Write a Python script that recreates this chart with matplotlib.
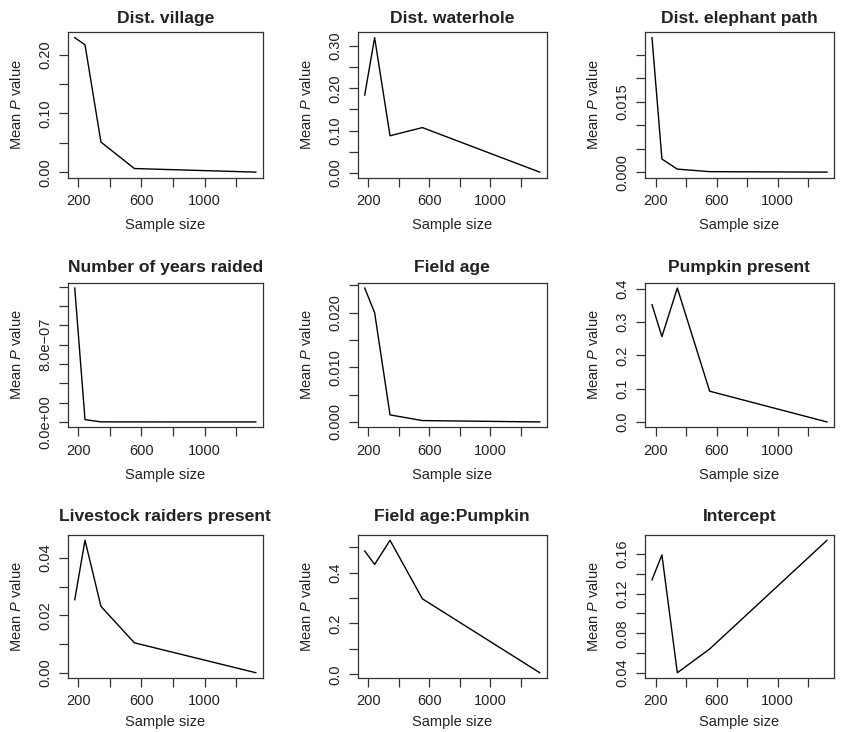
import matplotlib
matplotlib.use("Agg")
import matplotlib.pyplot as plt
import numpy as np

plt.rcParams['font.family'] = ['Liberation Sans', 'DejaVu Sans']
plt.rcParams['mathtext.fontset'] = 'custom'
plt.rcParams['mathtext.rm'] = 'Liberation Sans'
plt.rcParams['mathtext.it'] = 'Liberation Sans:italic'

# ---- data ----
sample_size = [177, 242, 343, 555, 1324]

titles = ["Dist. village", "Dist. waterhole", "Dist. elephant path",
          "Number of years raided", "Field age", "Pumpkin present",
          "Livestock raiders present", "Field age:Pumpkin", "Intercept"]

p_dist_village = [0.229, 0.217, 0.0514, 0.0063, 0.0002]
p_dist_waterhole = [0.184, 0.320, 0.0876, 0.107, 0.0015]
p_dist_elephant = [0.0287, 0.00279, 0.00064, 0.0001, 0.0]
p_years_raided = [1.384e-6, 2.4e-8, 1e-9, 5e-10, 2e-10]
p_field_age = [0.0245, 0.0200, 0.00129, 0.00025, 0.0]
p_pumpkin = [0.353, 0.257, 0.403, 0.0925, 0.0]
p_livestock = [0.0254, 0.0461, 0.0231, 0.0104, 0.0]
p_fieldage_pumpkin = [0.485, 0.432, 0.527, 0.297, 0.0065]
p_intercept = [0.1339, 0.159, 0.0403, 0.0642, 0.1737]

series = [p_dist_village, p_dist_waterhole, p_dist_elephant,
          p_years_raided, p_field_age, p_pumpkin,
          p_livestock, p_fieldage_pumpkin, p_intercept]

x_ticks = [200, 400, 600, 800, 1000, 1200]
x_ticklabels = ["200", "", "600", "", "1000", ""]

y_ticks = [
    [0, 0.05, 0.10, 0.15, 0.20],
    [0, 0.05, 0.10, 0.15, 0.20, 0.25, 0.30],
    [0, 0.005, 0.010, 0.015, 0.020, 0.025],
    [0, 2e-7, 4e-7, 6e-7, 8e-7, 1e-6, 1.2e-6, 1.4e-6],
    [0, 0.005, 0.010, 0.015, 0.020, 0.025],
    [0, 0.1, 0.2, 0.3, 0.4],
    [0, 0.01, 0.02, 0.03, 0.04],
    [0, 0.1, 0.2, 0.3, 0.4, 0.5],
    [0.04, 0.06, 0.08, 0.10, 0.12, 0.14, 0.16],
]
y_ticklabels = [
    ["0.00", "", "0.10", "", "0.20"],
    ["0.00", "", "0.10", "", "0.20", "", "0.30"],
    ["0.000", "", "", "0.015", "", ""],
    ["0.0e+00", "", "", "", "8.0e\u221207", "", "", ""],
    ["0.000", "", "0.010", "", "0.020", ""],
    ["0.0", "0.1", "0.2", "0.3", "0.4"],
    ["0.00", "", "0.02", "", "0.04"],
    ["0.0", "", "0.2", "", "0.4", ""],
    ["0.04", "", "0.08", "", "0.12", "", "0.16"],
]

# ---- layout (pixels) ----
W, H = 842, 732
col_left = [67.5, 357.7, 645.0]
col_right = [263.0, 546.7, 834.0]
row_top = [32.3, 282.7, 535.0]
row_bot = [177.5, 427.3, 678.0]
title_gap = [9.6, 11.0, 14.5]
xlabel_off = [47.5, 47.5, 44.0]

txt = '#222222'
fig = plt.figure(figsize=(W / 100, H / 100), dpi=100)

for i in range(9):
    r, c = divmod(i, 3)
    l, rr = col_left[c], col_right[c]
    t, b = row_top[r], row_bot[r]
    ax = fig.add_axes([l / W, 1 - b / H, (rr - l) / W, (b - t) / H])
    ax.plot(sample_size, series[i], color='black', lw=1.0)
    ax.margins(x=0.04, y=0.04)
    ax.set_xticks(x_ticks)
    ax.set_xticklabels(x_ticklabels)
    ax.set_yticks(y_ticks[i])
    ax.set_yticklabels(y_ticklabels[i], rotation=90, va='center')
    ax.tick_params(axis='both', direction='out', length=6.7, width=0.9,
                   color='#333333', labelsize=10.5, labelcolor=txt)
    ax.tick_params(axis='x', pad=5.0)
    ax.tick_params(axis='y', pad=4.5)
    for s in ax.spines.values():
        s.set_linewidth(0.9)
        s.set_color('#333333')
    ax.set_title(titles[i], fontsize=12.6, fontweight='bold', color=txt,
                 pad=title_gap[r] * 0.72)
    ax.set_xlabel("Sample size", fontsize=10.5, color=txt)
    ax.xaxis.label.set_va('center')
    ax.xaxis.set_label_coords(0.5, -xlabel_off[r] / (b - t))
    ax.set_ylabel("Mean $\\mathit{P}$ value", fontsize=10.5, color=txt)
    ax.yaxis.label.set_va('center')
    ax.yaxis.set_label_coords(-51.0 / (rr - l), 0.5)

fig.savefig("out.png", dpi=100)
